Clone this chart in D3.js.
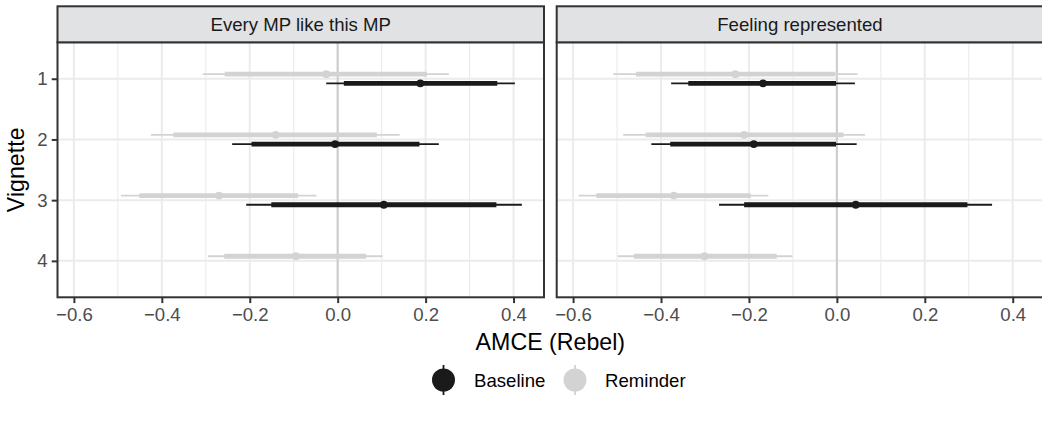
<!DOCTYPE html>
<html>
<head>
<meta charset="utf-8">
<script src="https://cdn.jsdelivr.net/npm/d3@7"></script>
<style>
html,body{margin:0;padding:0;background:#fff;}
svg{display:block;font-family:"Liberation Sans",Arial,Helvetica,sans-serif;}
</style>
</head>
<body>
<script>
// ---------- data ----------
const vignettes = ["1", "2", "3", "4"];
const facets = ["Every MP like this MP", "Feeling represented"];
const groups = ["Baseline", "Reminder"];
const xTickValues = [-0.6, -0.4, -0.2, 0.0, 0.2, 0.4];

// Every MP like this MP
const everyBaselineEst  = [0.188, -0.006, 0.105, null];
const everyBaselineLo95 = [-0.026, -0.240, -0.208, null];
const everyBaselineHi95 = [0.403, 0.230, 0.419, null];
const everyBaselineLo90 = [0.014, -0.196, -0.151, null];
const everyBaselineHi90 = [0.363, 0.186, 0.361, null];

const everyReminderEst  = [-0.026, -0.141, -0.270, -0.095];
const everyReminderLo95 = [-0.307, -0.425, -0.493, -0.295];
const everyReminderHi95 = [0.253, 0.141, -0.048, 0.102];
const everyReminderLo90 = [-0.257, -0.374, -0.451, -0.258];
const everyReminderHi90 = [0.203, 0.089, -0.090, 0.065];

// Feeling represented
const feelBaselineEst  = [-0.168, -0.189, 0.043, null];
const feelBaselineLo95 = [-0.377, -0.422, -0.268, null];
const feelBaselineHi95 = [0.041, 0.045, 0.353, null];
const feelBaselineLo90 = [-0.338, -0.379, -0.211, null];
const feelBaselineHi90 = [-0.002, -0.002, 0.297, null];

const feelReminderEst  = [-0.231, -0.211, -0.371, -0.301];
const feelReminderLo95 = [-0.509, -0.486, -0.587, -0.498];
const feelReminderHi95 = [0.047, 0.064, -0.156, -0.101];
const feelReminderLo90 = [-0.457, -0.435, -0.547, -0.462];
const feelReminderHi90 = [-0.004, 0.015, -0.196, -0.137];

const seriesTable = [
  [ // facet 0
    [everyBaselineEst, everyBaselineLo95, everyBaselineHi95, everyBaselineLo90, everyBaselineHi90],
    [everyReminderEst, everyReminderLo95, everyReminderHi95, everyReminderLo90, everyReminderHi90]
  ],
  [ // facet 1
    [feelBaselineEst, feelBaselineLo95, feelBaselineHi95, feelBaselineLo90, feelBaselineHi90],
    [feelReminderEst, feelReminderLo95, feelReminderHi95, feelReminderLo90, feelReminderHi90]
  ]
];

const rows = [];
facets.forEach((f, fi) => {
  groups.forEach((g, gi) => {
    const [est, lo95, hi95, lo90, hi90] = seriesTable[fi][gi];
    vignettes.forEach((v, vi) => {
      if (est[vi] == null) return;
      rows.push({facet: fi, group: g, vignette: v, est: est[vi],
        lo95: lo95[vi], hi95: hi95[vi], lo90: lo90[vi], hi90: hi90[vi]});
    });
  });
});

// ---------- layout ----------
const W = 1042, H = 421;
const panelX0 = [57.5, 556.7];
const panelW = 486.5;
const stripTop = 6.3, panelTop = 42.3, panelBottom = 297.3;
const colour = d3.scaleOrdinal().domain(groups).range(["#1a1a1a", "#d3d3d3"]);
const dodge = d3.scalePoint().domain(["Reminder", "Baseline"]).range([-4.6, 4.6]);

const svg = d3.select("body").append("svg").attr("width", W).attr("height", H);

const mn = d3.min(rows, d => d.lo95), mx = d3.max(rows, d => d.hi95);
const pad = 0.05 * (mx - mn);
const y = d3.scalePoint().domain(vignettes).range([panelTop, panelBottom]).padding(0.6);

const defs = svg.append("defs");

facets.forEach((fname, fi) => {
  const x0 = panelX0[fi];
  const x = d3.scaleLinear().domain([mn - pad, mx + pad]).range([x0, x0 + panelW]);
  const g = svg.append("g");
  defs.append("clipPath").attr("id", "clip" + fi)
    .append("rect").attr("x", x0).attr("y", panelTop).attr("width", panelW).attr("height", panelBottom - panelTop);

  g.append("rect").attr("x", x0).attr("y", panelTop).attr("width", panelW)
    .attr("height", panelBottom - panelTop).attr("fill", "#fff");

  const grid = g.append("g").attr("clip-path", "url(#clip" + fi + ")");
  const minor = x.ticks(10).filter(t => !xTickValues.some(m => Math.abs(m - t) < 1e-9));
  grid.selectAll(".minor").data(minor).join("line")
    .attr("x1", d => x(d)).attr("x2", d => x(d)).attr("y1", panelTop).attr("y2", panelBottom)
    .attr("stroke", "#ebebeb").attr("stroke-width", 1.1);
  grid.selectAll(".majx").data(xTickValues).join("line")
    .attr("x1", d => x(d)).attr("x2", d => x(d)).attr("y1", panelTop).attr("y2", panelBottom)
    .attr("stroke", "#ebebeb").attr("stroke-width", 2);
  grid.selectAll(".majy").data(vignettes).join("line")
    .attr("x1", x0).attr("x2", x0 + panelW).attr("y1", d => y(d)).attr("y2", d => y(d))
    .attr("stroke", "#ebebeb").attr("stroke-width", 2);
  // zero reference line
  grid.append("line").attr("x1", x(0)).attr("x2", x(0)).attr("y1", panelTop).attr("y2", panelBottom)
    .attr("stroke", "#cccccc").attr("stroke-width", 2);

  const data = rows.filter(r => r.facet === fi);
  const marks = g.append("g").attr("clip-path", "url(#clip" + fi + ")");
  marks.selectAll(".thin").data(data).join("line")
    .attr("x1", d => x(d.lo95)).attr("x2", d => x(d.hi95))
    .attr("y1", d => y(d.vignette) + dodge(d.group)).attr("y2", d => y(d.vignette) + dodge(d.group))
    .attr("stroke", d => colour(d.group)).attr("stroke-width", 1.8);
  marks.selectAll(".thick").data(data).join("line")
    .attr("x1", d => x(d.lo90)).attr("x2", d => x(d.hi90))
    .attr("y1", d => y(d.vignette) + dodge(d.group)).attr("y2", d => y(d.vignette) + dodge(d.group))
    .attr("stroke", d => colour(d.group)).attr("stroke-width", 4.8);
  marks.selectAll("circle").data(data).join("circle")
    .attr("cx", d => x(d.est)).attr("cy", d => y(d.vignette) + dodge(d.group))
    .attr("r", 3.9).attr("fill", d => colour(d.group));

  // panel border
  g.append("rect").attr("x", x0).attr("y", panelTop).attr("width", panelW)
    .attr("height", panelBottom - panelTop).attr("fill", "none")
    .attr("stroke", "#333333").attr("stroke-width", 2);
  // strip
  g.append("rect").attr("x", x0).attr("y", stripTop).attr("width", panelW)
    .attr("height", panelTop - stripTop).attr("fill", "#e1e2e4")
    .attr("stroke", "#333333").attr("stroke-width", 2);
  g.append("text").attr("x", x0 + panelW / 2).attr("y", (stripTop + panelTop) / 2)
    .attr("dy", "0.35em").attr("text-anchor", "middle").attr("font-size", 18.6)
    .attr("fill", "#1a1a1a").text(fname);

  // x axis
  const ax = g.append("g").attr("transform", `translate(0,${panelBottom})`)
    .call(d3.axisBottom(x).tickValues(xTickValues).tickFormat(d3.format(".1f"))
      .tickSize(5.8).tickPadding(4.2));
  ax.select(".domain").remove();
  ax.selectAll("line").attr("stroke", "#333333").attr("stroke-width", 2);
  ax.selectAll("text").attr("font-size", 18.6).attr("fill", "#4d4d4d")
    .attr("font-family", "Liberation Sans, Arial, sans-serif");

  if (fi === 0) {
    const ay = g.append("g").attr("transform", `translate(${x0},0)`)
      .call(d3.axisLeft(y).tickSize(5.8).tickPadding(4.2));
    ay.select(".domain").remove();
    ay.selectAll("line").attr("stroke", "#333333").attr("stroke-width", 2);
    ay.selectAll("text").attr("font-size", 18.6).attr("fill", "#4d4d4d")
      .attr("font-family", "Liberation Sans, Arial, sans-serif");
  }
});

// axis titles
svg.append("text").attr("x", (panelX0[0] + panelX0[1] + panelW) / 2).attr("y", 350)
  .attr("text-anchor", "middle").attr("font-size", 23.2).attr("fill", "#000").text("AMCE (Rebel)");
svg.append("text").attr("transform", `translate(24,${(panelTop + panelBottom) / 2}) rotate(-90)`)
  .attr("text-anchor", "middle").attr("font-size", 23.2).attr("fill", "#000").text("Vignette");

// legend
const legendY = 380;
const legendKeyX = [443.5, 575];
const legendTextX = [474, 605];
groups.forEach((gname, i) => {
  const lg = svg.append("g");
  lg.append("line").attr("x1", legendKeyX[i]).attr("x2", legendKeyX[i])
    .attr("y1", legendY - 15).attr("y2", legendY + 15)
    .attr("stroke", colour(gname)).attr("stroke-width", 1.8);
  lg.append("circle").attr("cx", legendKeyX[i]).attr("cy", legendY).attr("r", 11.5)
    .attr("fill", colour(gname));
  lg.append("text").attr("x", legendTextX[i]).attr("y", legendY).attr("dy", "0.35em")
    .attr("font-size", 18.6).attr("fill", "#000").text(gname);
});
</script>
</body>
</html>
